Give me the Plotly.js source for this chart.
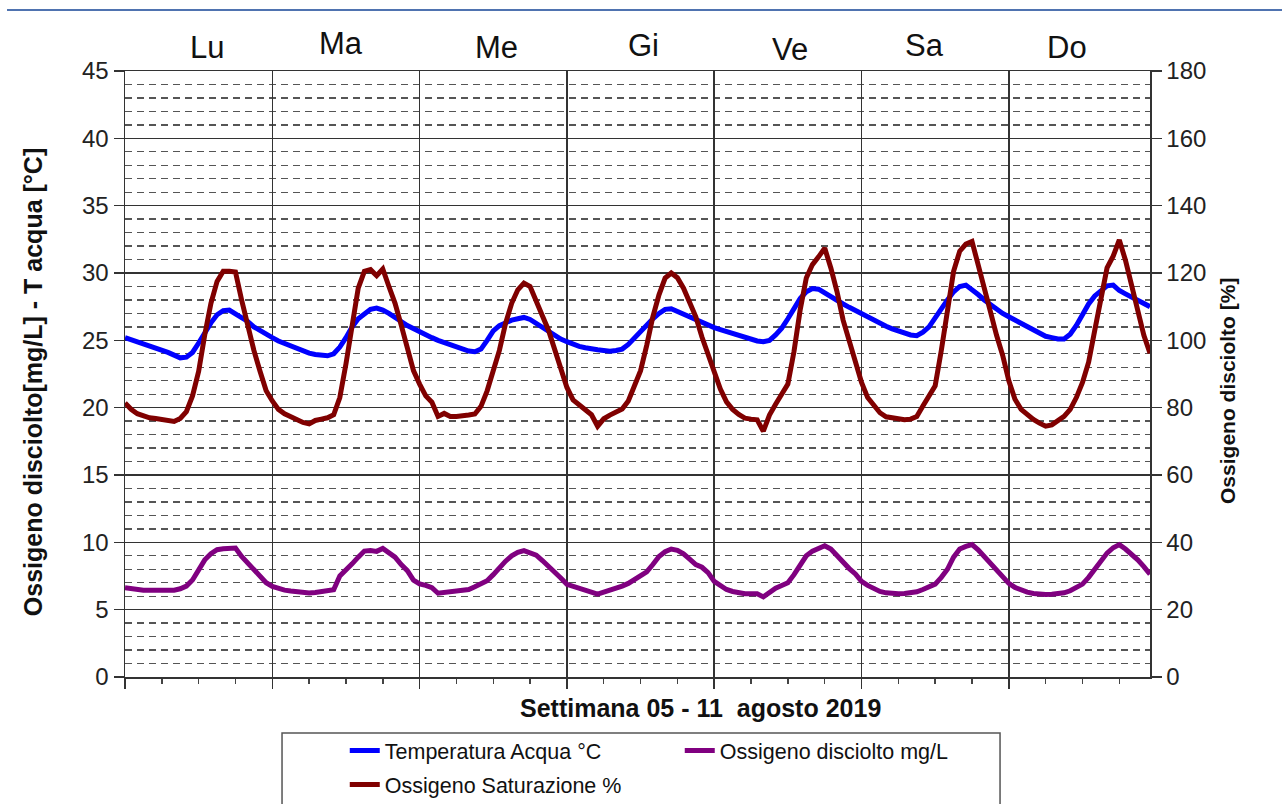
<!DOCTYPE html>
<html>
<head>
<meta charset="utf-8">
<script src="https://cdn.plot.ly/plotly-3.0.1.min.js"></script>
<style>
  html, body { margin: 0; padding: 0; background: #ffffff; }
  #chart { width: 1282px; height: 804px; }
</style>
</head>
<body>
<div id="chart"></div>
<script>
// ---- DATA (hourly readings, Mon 05 Aug 00:00 -> Sun 11 Aug 23:00) ----
const dayLabels = ["Lu", "Ma", "Me", "Gi", "Ve", "Sa", "Do"];

const temperatura = [
  25.2, 25.05, 24.9, 24.75, 24.6, 24.45, 24.3, 24.1, 23.9, 23.7, 23.75, 24.1,
  24.8, 25.6, 26.3, 26.9, 27.2, 27.25, 27.0, 26.7, 26.4, 26.0, 25.7, 25.45,
  25.2, 24.95, 24.75, 24.55, 24.35, 24.2, 24.05, 23.95, 23.9, 23.85, 24.0, 24.5,
  25.2, 26.0, 26.6, 27.0, 27.3, 27.4, 27.25, 27.0, 26.75, 26.4, 26.1, 25.85,
  25.6, 25.35, 25.2, 25.0, 24.85, 24.65, 24.5, 24.35, 24.2, 24.15, 24.35, 25.0,
  25.7, 26.1, 26.35, 26.5, 26.6, 26.7, 26.55, 26.25, 25.95, 25.7, 25.4, 25.1,
  24.9, 24.7, 24.55, 24.45, 24.35, 24.3, 24.25, 24.2, 24.25, 24.35, 24.7, 25.2,
  25.7, 26.1, 26.6, 27.0, 27.3, 27.35, 27.15, 26.9, 26.7, 26.45, 26.3, 26.15,
  25.95, 25.8, 25.65, 25.5, 25.35, 25.2, 25.05, 24.95, 24.9, 25.0, 25.4, 25.9,
  26.6, 27.3, 28.1, 28.6, 28.85, 28.8, 28.5, 28.2, 27.95, 27.7, 27.45, 27.2,
  27.0, 26.75, 26.5, 26.25, 26.05, 25.85, 25.7, 25.55, 25.4, 25.35, 25.6, 26.0,
  26.7, 27.3, 28.0, 28.6, 29.0, 29.1, 28.8, 28.4, 28.0, 27.65, 27.3, 27.0,
  26.75, 26.5, 26.2, 25.95, 25.7, 25.5, 25.3, 25.2, 25.1, 25.1, 25.45, 26.1,
  26.9, 27.7, 28.3, 28.7, 29.05, 29.1, 28.7, 28.45, 28.2, 27.95, 27.7, 27.5
];

const ossigenoMgL = [
  6.63, 6.55, 6.47, 6.45, 6.44, 6.43, 6.43, 6.43, 6.45, 6.55, 6.75, 7.2,
  8.0, 8.7, 9.15, 9.45, 9.52, 9.55, 9.57, 8.95, 8.45, 7.9, 7.45, 7.0,
  6.72, 6.55, 6.45, 6.38, 6.32, 6.26, 6.23, 6.28, 6.33, 6.4, 6.48, 7.5,
  7.9, 8.4, 8.9, 9.35, 9.4, 9.33, 9.55, 9.25, 8.9, 8.35, 7.9, 7.2,
  6.92, 6.8, 6.63, 6.22, 6.28, 6.33, 6.4, 6.45, 6.5, 6.7, 6.95, 7.15,
  7.6, 8.15, 8.6, 9.0, 9.25, 9.38, 9.25, 9.05, 8.65, 8.25, 7.85, 7.35,
  6.88, 6.75, 6.62, 6.5, 6.3, 6.15, 6.3, 6.43, 6.55, 6.75, 6.95, 7.2,
  7.45, 7.8, 8.35, 8.95, 9.3, 9.5, 9.4, 9.15, 8.75, 8.35, 8.15, 7.75,
  7.1, 6.8, 6.5, 6.35, 6.25, 6.18, 6.18, 6.18, 5.95, 6.3, 6.6, 6.8,
  7.0, 7.6, 8.3, 9.0, 9.35, 9.55, 9.75, 9.5, 9.0, 8.55, 8.05, 7.65,
  7.1, 6.8, 6.55, 6.35, 6.25, 6.2, 6.18, 6.2, 6.25, 6.33, 6.5, 6.7,
  6.9, 7.4, 8.0, 8.9, 9.5, 9.7, 9.83, 9.45, 8.95, 8.5, 8.0, 7.5,
  6.95, 6.65, 6.45, 6.3, 6.2, 6.15, 6.13, 6.15, 6.18, 6.25, 6.4, 6.6,
  6.9, 7.4, 8.0, 8.6, 9.2, 9.6, 9.83, 9.5, 9.15, 8.7, 8.2, 7.63
];

const saturazione = [
  81.4, 79.5, 78.2, 77.4, 77.0, 76.8, 76.5, 76.1, 75.9, 76.8, 78.8, 83.5,
  90.8, 101.7, 111.0, 117.5, 120.5, 120.5, 120.3, 112.0, 104.0, 97.0, 90.8, 85.0,
  82.0, 79.5, 78.2, 77.2, 76.4, 75.6, 75.2, 76.2, 76.6, 77.0, 77.9, 83.0,
  93.0, 104.5, 115.5, 120.5, 121.0, 119.2, 121.2, 116.0, 111.0, 104.5, 97.0, 91.0,
  87.0, 83.5, 81.6, 77.4, 78.3, 77.4, 77.4, 77.5, 77.8, 78.1, 80.4, 85.0,
  90.5, 97.0, 105.0, 111.0, 115.0, 117.0, 116.0, 112.0, 107.3, 103.0, 97.5, 91.0,
  86.0, 82.3, 80.8, 79.5, 77.9, 74.5, 76.7, 77.8, 78.6, 79.6, 82.0, 86.2,
  91.0, 98.5, 107.0, 113.5, 118.5, 120.0, 118.6, 115.5, 111.5, 107.0, 101.0, 96.0,
  90.5, 85.5, 81.7, 79.5, 78.0, 76.9, 76.6, 76.4, 73.0, 77.8, 81.0, 84.0,
  87.0, 96.7, 109.0, 118.5, 122.5, 124.8, 127.4, 121.5, 114.5, 106.0, 100.0, 93.0,
  87.5, 83.0, 80.9, 78.5, 77.3, 76.9, 76.6, 76.4, 76.6, 77.4, 80.5, 83.5,
  86.5, 97.0, 109.6, 120.5, 126.5, 128.6, 129.4, 122.0, 115.5, 108.5, 101.5, 95.5,
  88.0, 82.5, 79.5, 77.9, 76.5, 75.4, 74.5, 74.9, 76.0, 77.4, 79.5, 83.0,
  87.5, 93.5, 103.0, 112.5, 121.5, 125.0, 129.8, 123.8, 116.5, 108.5, 101.5, 96.2
];

const seriesNames = ["Temperatura Acqua °C", "Ossigeno disciolto mg/L", "Ossigeno Saturazione %"];
const titleX = "Settimana 05 - 11\u00a0 agosto 2019";
const titleY1 = "Ossigeno disciolto[mg/L] - T acqua [°C]";
const titleY2 = "Ossigeno disciolto [%]";

// ---- LAYOUT / STYLE ----
const hours = temperatura.map((_, i) => i);
const FONT = "Liberation Sans, Arial, sans-serif";
const dayNudge = [1.4, -0.8, 0.6, 0.4, 0.3, -1.8, -2.5];   // hours, label placement tweak
const dayYNudge = [1.0396, 1.0462, 1.0396, 1.0429, 1.0347, 1.0429, 1.038];

const traces = [
  { x: hours, y: temperatura, name: seriesNames[0], type: "scatter", mode: "lines",
    line: { color: "#0000ff", width: 5 }, yaxis: "y", legend: "legend" },
  { x: hours, y: ossigenoMgL, name: seriesNames[1], type: "scatter", mode: "lines",
    line: { color: "#800080", width: 5 }, yaxis: "y", legend: "legend" },
  { x: hours, y: saturazione, name: seriesNames[2], type: "scatter", mode: "lines",
    line: { color: "#800000", width: 5 }, yaxis: "y2", legend: "legend2" }
];

const annotations = dayLabels.map((d, i) => ({
  text: d, xref: "x", yref: "paper", x: i * 24 + 12 + dayNudge[i], y: dayYNudge[i],
  xanchor: "center", yanchor: "middle", showarrow: false,
  font: { family: FONT, size: 31, color: "#111" }
}));
annotations.push(
  { text: "<b>" + titleX + "</b>", xref: "paper", yref: "paper", x: 0.561, y: -0.0512,
    xanchor: "center", yanchor: "middle", showarrow: false,
    font: { family: FONT, size: 25, color: "#111" } },
  { text: "<b>" + titleY1 + "</b>", xref: "paper", yref: "paper", x: -0.0898, y: 0.4865,
    xanchor: "center", yanchor: "middle", textangle: -90, showarrow: false,
    font: { family: FONT, size: 25, color: "#111" } },
  { text: "<b>" + titleY2 + "</b>", xref: "paper", yref: "paper", x: 1.0761, y: 0.472,
    xanchor: "center", yanchor: "middle", textangle: -90, showarrow: false,
    font: { family: FONT, size: 21, color: "#111" } }
);

const legendFont = { family: FONT, size: 21.5, color: "#111" };

const layout = {
  width: 1282, height: 804,
  margin: { l: 125, r: 132, t: 71, b: 127, pad: 0, autoexpand: false },
  paper_bgcolor: "#ffffff", plot_bgcolor: "#ffffff",
  font: { family: FONT, size: 24, color: "#222" },
  showlegend: true,
  legend: {
    orientation: "h", x: 0.2144, y: -0.0874, xanchor: "left", yanchor: "top",
    entrywidth: 290, entrywidthmode: "pixels",
    font: legendFont, bgcolor: "rgba(0,0,0,0)", borderwidth: 0, traceorder: "normal"
  },
  legend2: {
    orientation: "h", x: 0.2144, y: -0.1435, xanchor: "left", yanchor: "top",
    font: legendFont, bgcolor: "rgba(0,0,0,0)", borderwidth: 0
  },
  xaxis: {
    range: [0, 167], dtick: 24, tick0: 0,
    showticklabels: false, ticks: "outside", ticklen: 10, tickwidth: 1.5, tickcolor: "#333",
    showgrid: true, gridcolor: "#333", gridwidth: 1.5,
    showline: true, linecolor: "#333", linewidth: 1.5, mirror: true,
    zeroline: false, fixedrange: true,
    minor: { dtick: 6, tick0: 0, ticks: "outside", ticklen: 5, tickwidth: 1.5, tickcolor: "#444", showgrid: false }
  },
  yaxis: {
    range: [0, 45], dtick: 5, tick0: 0,
    ticks: "outside", ticklen: 10, tickwidth: 1.5, tickcolor: "#333",
    tickfont: { family: FONT, size: 24, color: "#222" },
    showgrid: true, gridcolor: "#333", gridwidth: 1.3,
    showline: true, linecolor: "#333", linewidth: 1.5,
    zeroline: false, fixedrange: true,
    minor: { dtick: 1, tick0: 0, showgrid: true, gridcolor: "#555", gridwidth: 1.3, griddash: "7px,5px", ticks: "" }
  },
  yaxis2: {
    range: [0, 180], dtick: 20, tick0: 0, overlaying: "y", side: "right",
    ticks: "outside", ticklen: 10, tickwidth: 1.5, tickcolor: "#333",
    tickfont: { family: FONT, size: 24, color: "#222" },
    showgrid: false, showline: true, linecolor: "#333", linewidth: 1.5,
    zeroline: false, fixedrange: true
  },
  shapes: [
    { type: "line", xref: "paper", yref: "paper", x0: -0.1151, x1: 1.1288, y0: 1.1007, y1: 1.1007,
      line: { color: "#4f73b0", width: 2 } },
    { type: "rect", xref: "paper", yref: "paper", x0: 0.1532, x1: 0.8537, y0: -0.0924, y1: -0.215,
      line: { color: "#555", width: 1.5 }, fillcolor: "rgba(0,0,0,0)" }
  ],
  annotations: annotations
};

Plotly.newPlot("chart", traces, layout, { displayModeBar: false, staticPlot: true });
</script>
</body>
</html>
